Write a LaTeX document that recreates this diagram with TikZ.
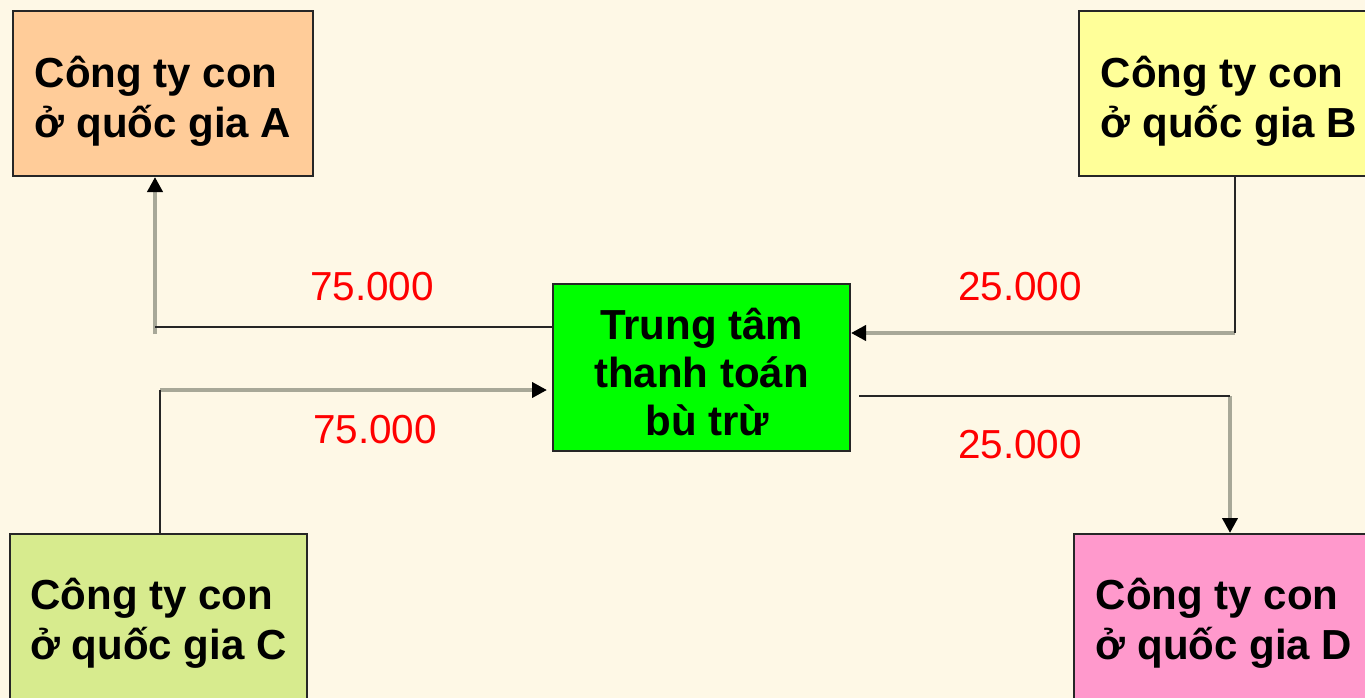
\documentclass[tikz,border=0pt]{standalone}
\usepackage{fontspec}
\setmainfont{Liberation Sans}
\usetikzlibrary{arrows.meta}
\definecolor{bg}{HTML}{FEF8E6}
\definecolor{fa}{HTML}{FFCC99}
\definecolor{fb}{HTML}{FFFF99}
\definecolor{fc}{HTML}{D7EB8E}
\definecolor{fd}{HTML}{FF99CC}
\definecolor{fm}{HTML}{00FF00}
\definecolor{ln}{HTML}{A8A898}
\tikzset{
  boxnode/.style={draw=black!85, line width=2pt, minimum width=300pt, minimum height=165pt, inner sep=0pt},
  txtnode/.style={align=left, font=\fontsize{42}{50}\selectfont\bfseries, inner sep=0pt},
  valnode/.style={text=red, font=\fontsize{40.5}{46}\selectfont},
  blk/.style={draw=black!85, line width=2pt},
  gry/.style={draw=ln, line width=4pt},
  tip/.style={-{Triangle[length=15pt,width=15pt,black]}}
}
\begin{document}
\begin{tikzpicture}[x=1pt,y=-1pt]
\useasboundingbox (0,0) rectangle (1365,698);
\fill[bg] (0,0) rectangle (1365,698);
\clip (0,0) rectangle (1365,698);
\node[boxnode, fill=fa] (A) at (163,93.5) {};
\node[boxnode, fill=fb] (B) at (1229,93.5) {};
\node[boxnode, fill=fc, minimum width=297pt] (C) at (158.5,616.5) {};
\node[boxnode, fill=fd] (D) at (1224,616.5) {};
\node[boxnode, fill=fm, minimum width=297pt, minimum height=167pt] (M) at (701.5,367.5) {};
\node[txtnode] (At) at ([yshift=-8pt]A.center) {Công ty con\\ở quốc gia A};
\node[txtnode] (Bt) at ([yshift=-8pt]B.center) {Công ty con\\ở quốc gia B};
\node[txtnode] (Ct) at ([yshift=-7pt]C.center) {Công ty con\\ở quốc gia C};
\node[txtnode] (Dt) at ([yshift=-7pt]D.center) {Công ty con\\ở quốc gia D};
\node[txtnode, align=center, font=\fontsize{42}{48}\selectfont\bfseries] (Mt) at ([yshift=-5pt]M.center) {Trung tâm\\thanh toán\\\ bù trừ};
\coordinate (ka) at (155,327);
\coordinate (kb) at (1235,333);
\coordinate (kc) at (160,390);
\coordinate (kd) at (1230,396);
% A
\draw[gry, tip] ([yshift=-7pt]ka) -- (ka |- A.south);
\draw[blk] (M.west |- ka) -- (ka);
% B
\draw[gry, tip] (kb) -- (M.east |- kb);
\draw[blk] (kb |- B.south) -- (kb);
% C
\draw[gry, tip] (kc) -- ([xshift=-5pt]M.west |- kc);
\draw[blk] (kc |- C.north) -- (kc);
% D
\draw[gry, tip] (kd) -- (kd |- D.north);
\draw[blk] ([xshift=8pt]M.east |- kd) -- (kd);
% labels
\node[valnode] (la) at (372,287) {75.000};
\node[valnode] (lc) at (375,430) {75.000};
\node[valnode] (lb) at (1020,287) {25.000};
\node[valnode] (ld) at (1020,445) {25.000};
\end{tikzpicture}
\end{document}
